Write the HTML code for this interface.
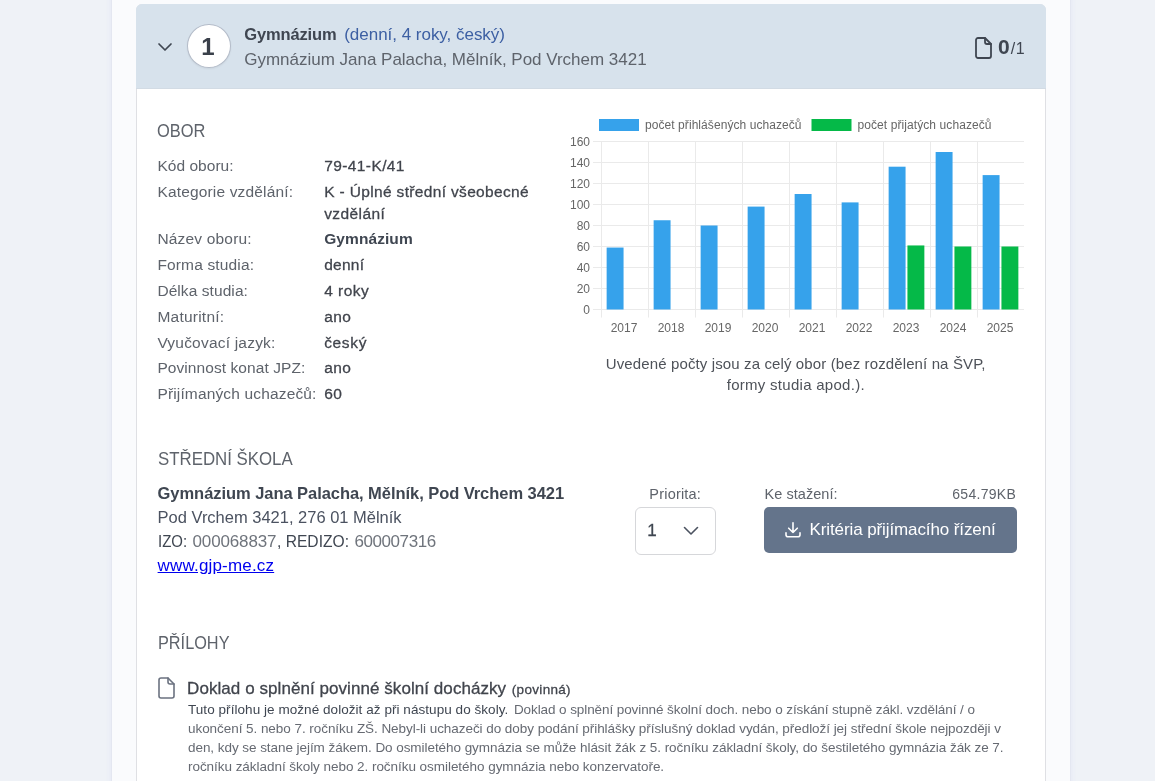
<!DOCTYPE html>
<html lang="cs"><head><meta charset="utf-8"><title>Přihláška</title>
<style>
*{box-sizing:border-box}
html,body{margin:0;padding:0}
body{width:1155px;height:781px;overflow:hidden;background:#eff2f7;font-family:"Liberation Sans",Arial,sans-serif;color:#3f4651;position:relative}
.outer{position:absolute;left:111px;top:-20px;width:960px;height:900px;background:#fafbfd;border:1px solid #e4e7f1;box-shadow:0 0 6px rgba(180,185,240,.16)}
.card{position:absolute;left:136px;top:4px;width:910px;height:900px;background:#fff;border:1px solid #dfe0e4;border-radius:6px 6px 0 0}
.hdr{position:absolute;left:-1px;top:-1px;width:910px;height:85px;background:#d7e2ec;border-bottom:1px solid #d2dbe4;border-radius:6px 6px 0 0}
.abs{position:absolute;white-space:nowrap}
.circle{position:absolute;left:187px;top:24px;width:43.500px;height:44px;border-radius:50%;background:#fff;border:1px solid #b4bcc9;box-shadow:0 1px 2px rgba(0,0,0,.06)}
.chart{position:absolute;left:560px;top:100px}
</style></head><body>
<div class="outer"></div>
<div class="card"><div class="hdr"></div></div>

<svg class="abs" style="left:157px;top:39px" width="16" height="16" viewBox="0 0 16 16" fill="none" stroke="#3f4651" stroke-width="1.7" stroke-linecap="round" stroke-linejoin="round"><path d="M2 5l6 6 6-6"/></svg>
<div class="circle"></div>
<div class="abs" style="left:186.5px;top:33px;width:43px;text-align:center;font-size:24px;font-weight:bold;color:#3a404a">1</div>

<svg class="abs" style="left:973px;top:35px" width="22" height="26" viewBox="0 0 22 26" fill="none" stroke="#3f4651" stroke-width="1.8" stroke-linejoin="round" stroke-linecap="round"><path d="M3 5a2 2 0 0 1 2-2h7l6 6v12a2 2 0 0 1-2 2H5a2 2 0 0 1-2-2z"/><path d="M12 3v4a2 2 0 0 0 2 2h4"/></svg>
<div class="abs" style="left:998px;top:35px;font-size:21px;color:#3f4651"><b style="letter-spacing:1px">0</b><span style="font-size:16px;letter-spacing:.5px">/1</span></div>

<svg class="chart" width="480" height="250" viewBox="0 0 480 250" font-family="Liberation Sans, Arial, sans-serif" font-size="12" fill="#666">
<rect x="33.0" y="41.0" width="431.0" height="1" fill="#eaeaea"/>
<rect x="33.0" y="62.0" width="431.0" height="1" fill="#eaeaea"/>
<rect x="33.0" y="83.0" width="431.0" height="1" fill="#eaeaea"/>
<rect x="33.0" y="104.0" width="431.0" height="1" fill="#eaeaea"/>
<rect x="33.0" y="125.0" width="431.0" height="1" fill="#eaeaea"/>
<rect x="33.0" y="146.0" width="431.0" height="1" fill="#eaeaea"/>
<rect x="33.0" y="167.0" width="431.0" height="1" fill="#eaeaea"/>
<rect x="33.0" y="188.0" width="431.0" height="1" fill="#eaeaea"/>
<rect x="33.0" y="209.0" width="431.0" height="1" fill="#eaeaea"/>
<rect x="41.0" y="41.5" width="1" height="176.0" fill="#eaeaea"/>
<rect x="88.0" y="41.5" width="1" height="176.0" fill="#eaeaea"/>
<rect x="135.0" y="41.5" width="1" height="176.0" fill="#eaeaea"/>
<rect x="182.0" y="41.5" width="1" height="176.0" fill="#eaeaea"/>
<rect x="229.0" y="41.5" width="1" height="176.0" fill="#eaeaea"/>
<rect x="276.0" y="41.5" width="1" height="176.0" fill="#eaeaea"/>
<rect x="323.0" y="41.5" width="1" height="176.0" fill="#eaeaea"/>
<rect x="370.0" y="41.5" width="1" height="176.0" fill="#eaeaea"/>
<rect x="417.0" y="41.5" width="1" height="176.0" fill="#eaeaea"/>
<rect x="46.64" y="147.55" width="16.92" height="61.95" fill="#36a2eb"/>
<rect x="93.64" y="120.25" width="16.92" height="89.25" fill="#36a2eb"/>
<rect x="140.64" y="125.5" width="16.92" height="84.0" fill="#36a2eb"/>
<rect x="187.64" y="106.6" width="16.92" height="102.9" fill="#36a2eb"/>
<rect x="234.64" y="94.0" width="16.92" height="115.5" fill="#36a2eb"/>
<rect x="281.64" y="102.4" width="16.92" height="107.1" fill="#36a2eb"/>
<rect x="328.64" y="66.7" width="16.92" height="142.8" fill="#36a2eb"/>
<rect x="347.44" y="145.45" width="16.92" height="64.05" fill="#05b948"/>
<rect x="375.64" y="52.0" width="16.92" height="157.5" fill="#36a2eb"/>
<rect x="394.44" y="146.5" width="16.92" height="63.0" fill="#05b948"/>
<rect x="422.64" y="75.1" width="16.92" height="134.4" fill="#36a2eb"/>
<rect x="441.44" y="146.5" width="16.92" height="63.0" fill="#05b948"/>
<text x="30" y="214.1" text-anchor="end">0</text>
<text x="30" y="193.1" text-anchor="end">20</text>
<text x="30" y="172.1" text-anchor="end">40</text>
<text x="30" y="151.1" text-anchor="end">60</text>
<text x="30" y="130.1" text-anchor="end">80</text>
<text x="30" y="109.1" text-anchor="end">100</text>
<text x="30" y="88.1" text-anchor="end">120</text>
<text x="30" y="67.1" text-anchor="end">140</text>
<text x="30" y="46.1" text-anchor="end">160</text>
<text x="64.0" y="232" text-anchor="middle">2017</text>
<text x="111.0" y="232" text-anchor="middle">2018</text>
<text x="158.0" y="232" text-anchor="middle">2019</text>
<text x="205.0" y="232" text-anchor="middle">2020</text>
<text x="252.0" y="232" text-anchor="middle">2021</text>
<text x="299.0" y="232" text-anchor="middle">2022</text>
<text x="346.0" y="232" text-anchor="middle">2023</text>
<text x="393.0" y="232" text-anchor="middle">2024</text>
<text x="440.0" y="232" text-anchor="middle">2025</text>
<rect x="39" y="19" width="40" height="12" fill="#36a2eb"/>
<text x="85" y="29.3" textLength="156.5" lengthAdjust="spacing">počet přihlášených uchazečů</text>
<rect x="251.5" y="19" width="40" height="12" fill="#05b948"/>
<text x="297.5" y="29.3" textLength="134" lengthAdjust="spacing">počet přijatých uchazečů</text>
</svg>

<div class="abs" style="left:635px;top:507px;width:81px;height:48px;border:1px solid #d6d7da;border-radius:6px;background:#fff"></div>
<svg class="abs" style="left:683px;top:523px" width="16" height="16" viewBox="0 0 16 16" fill="none" stroke="#4b5260" stroke-width="1.6" stroke-linecap="round" stroke-linejoin="round"><path d="M1.5 4.5l6.5 6.5 6.5-6.5"/></svg>

<div class="abs" style="left:764px;top:507px;width:253px;height:46px;background:#64748b;border-radius:5px"></div>
<svg class="abs" style="left:784px;top:521px" width="18" height="18" viewBox="0 0 18 18" fill="none" stroke="#fff" stroke-width="1.6" stroke-linecap="round" stroke-linejoin="round"><path d="M9 1.800v9.700M4.700 7.200L9 11.500l4.300-4.300M2 11.800v2a2 2 0 0 0 2 2h10a2 2 0 0 0 2-2v-2"/></svg>

<svg class="abs" style="left:157px;top:676px" width="20" height="24" viewBox="0 0 20 24" fill="none" stroke="#6b7280" stroke-width="1.6" stroke-linejoin="round" stroke-linecap="round"><path d="M2 4a2 2 0 0 1 2-2h7l6 6v12a2 2 0 0 1-2 2H4a2 2 0 0 1-2-2z"/><path d="M11 2v4a2 2 0 0 0 2 2h4"/></svg>

<div id="t1" class="abs" style="left:244.2px;top:25.2px;font-size:16.5px;font-weight:bold;color:#3f4651;letter-spacing:-0.129px">Gymnázium</div>
<div id="t2" class="abs" style="left:344.2px;top:25px;font-size:17px;color:#3c5fa3;letter-spacing:-0.021px">(denní, 4 roky, český)</div>
<div id="t3" class="abs" style="left:244.2px;top:49.5px;font-size:17px;color:#5e636b;letter-spacing:-0.008px">Gymnázium Jana Palacha, Mělník, Pod Vrchem 3421</div>
<div id="h1" class="abs" style="left:157.4px;top:121px;font-size:18px;color:#5e636b;transform-origin:0 0;transform:scaleX(0.9129)">OBOR</div>
<div id="l1" class="abs" style="left:157.4px;top:157px;font-size:15.5px;color:#5e636b;letter-spacing:0.04px">Kód oboru:</div>
<div id="v1" class="abs" style="left:324.2px;top:157px;font-size:15.5px;color:#40444c;-webkit-text-stroke:.28px #40444c;letter-spacing:0.4px">79-41-K/41</div>
<div id="l2" class="abs" style="left:157.4px;top:183px;font-size:15.5px;color:#5e636b;letter-spacing:0.161px">Kategorie vzdělání:</div>
<div id="v2" class="abs" style="left:324.2px;top:183px;font-size:15.5px;color:#40444c;-webkit-text-stroke:.28px #40444c;letter-spacing:0.343px">K - Úplné střední všeobecné</div>
<div id="v2b" class="abs" style="left:324.2px;top:205px;font-size:15.5px;color:#40444c;-webkit-text-stroke:.28px #40444c;letter-spacing:0.409px">vzdělání</div>
<div id="l3" class="abs" style="left:157.4px;top:230px;font-size:15.5px;color:#5e636b;letter-spacing:0.182px">Název oboru:</div>
<div id="v3" class="abs" style="left:324.2px;top:230px;font-size:15.5px;font-weight:bold;color:#3f4651;letter-spacing:0.08px">Gymnázium</div>
<div id="l4" class="abs" style="left:157.4px;top:256px;font-size:15.5px;color:#5e636b;letter-spacing:0.153px">Forma studia:</div>
<div id="v4" class="abs" style="left:324.2px;top:256px;font-size:15.5px;color:#40444c;-webkit-text-stroke:.28px #40444c;letter-spacing:0.251px">denní</div>
<div id="l5" class="abs" style="left:157.4px;top:282px;font-size:15.5px;color:#5e636b;letter-spacing:0.074px">Délka studia:</div>
<div id="v5" class="abs" style="left:324.2px;top:282px;font-size:15.5px;color:#40444c;-webkit-text-stroke:.28px #40444c;letter-spacing:0.476px">4 roky</div>
<div id="l6" class="abs" style="left:157.4px;top:308px;font-size:15.5px;color:#5e636b;letter-spacing:0.232px">Maturitní:</div>
<div id="v6" class="abs" style="left:324.2px;top:308px;font-size:15.5px;color:#40444c;-webkit-text-stroke:.28px #40444c;letter-spacing:0.363px">ano</div>
<div id="l7" class="abs" style="left:157.4px;top:334px;font-size:15.5px;color:#5e636b;letter-spacing:0.209px">Vyučovací jazyk:</div>
<div id="v7" class="abs" style="left:324.2px;top:334px;font-size:15.5px;color:#40444c;-webkit-text-stroke:.28px #40444c;letter-spacing:0.644px">český</div>
<div id="l8" class="abs" style="left:157.4px;top:359px;font-size:15.5px;color:#5e636b;letter-spacing:0.075px">Povinnost konat JPZ:</div>
<div id="v8" class="abs" style="left:324.2px;top:359px;font-size:15.5px;color:#40444c;-webkit-text-stroke:.28px #40444c;letter-spacing:0.363px">ano</div>
<div id="l9" class="abs" style="left:157.4px;top:385px;font-size:15.5px;color:#5e636b;letter-spacing:0.153px">Přijímaných uchazečů:</div>
<div id="v9" class="abs" style="left:324.2px;top:385px;font-size:15.5px;color:#40444c;-webkit-text-stroke:.28px #40444c;letter-spacing:0.35px">60</div>
<div id="c1" class="abs" style="left:605.8px;top:355px;font-size:15px;color:#4e5259;letter-spacing:0.121px">Uvedené počty jsou za celý obor (bez rozdělení na ŠVP,</div>
<div id="c2" class="abs" style="left:726.7px;top:376px;font-size:15px;color:#4e5259;letter-spacing:0.281px">formy studia apod.).</div>
<div id="h2" class="abs" style="left:157.6px;top:449px;font-size:18px;color:#5e636b;transform-origin:0 0;transform:scaleX(0.9351)">STŘEDNÍ ŠKOLA</div>
<div id="s1" class="abs" style="left:157.6px;top:483.8px;font-size:16.5px;font-weight:bold;color:#3f4651;letter-spacing:-0.055px">Gymnázium Jana Palacha, Mělník, Pod Vrchem 3421</div>
<div id="s2" class="abs" style="left:157.6px;top:507.8px;font-size:16.5px;color:#4b5260;letter-spacing:-0.01px">Pod Vrchem 3421, 276 01 Mělník</div>
<div id="s3a" class="abs" style="left:157.6px;top:532px;font-size:17px;color:#3f4651;transform-origin:0 0;transform:scaleX(0.8802)">IZO:</div>
<div id="s3b" class="abs" style="left:192.5px;top:532px;font-size:17px;color:#6f747c;letter-spacing:-0.137px">000068837</div>
<div id="s3c" class="abs" style="left:276.8px;top:532px;font-size:17px;color:#3f4651;transform-origin:0 0;transform:scaleX(0.9183)">, REDIZO:</div>
<div id="s3d" class="abs" style="left:354.6px;top:532px;font-size:17px;color:#6f747c;letter-spacing:-0.449px">600007316</div>
<div id="s4" class="abs" style="left:157.6px;top:556px;font-size:17px;color:#0000ee;text-decoration:underline;letter-spacing:0.174px">www.gjp-me.cz</div>
<div id="p1" class="abs" style="left:649.3px;top:486px;font-size:14.5px;color:#5e636b;letter-spacing:0.204px">Priorita:</div>
<div id="p2" class="abs" style="left:647.3px;top:521px;font-size:17px;color:#3f4651;-webkit-text-stroke:.3px #3f4651;letter-spacing:0px">1</div>
<div id="k1" class="abs" style="left:764.5px;top:486px;font-size:14.5px;color:#5e636b;letter-spacing:0.055px">Ke stažení:</div>
<div id="k2" class="abs" style="left:952.3px;top:486px;font-size:14px;color:#5e636b;letter-spacing:0.286px">654.79KB</div>
<div id="k3" class="abs" style="left:809.5px;top:520px;font-size:17px;color:#fff;letter-spacing:-0.102px">Kritéria přijímacího řízení</div>
<div id="h3" class="abs" style="left:157.6px;top:633px;font-size:18px;color:#5e636b;transform-origin:0 0;transform:scaleX(0.9047)">PŘÍLOHY</div>
<div id="a1" class="abs" style="left:187.1px;top:679px;font-size:17px;color:#40444c;-webkit-text-stroke:.28px #40444c;letter-spacing:0.062px">Doklad o splnění povinné školní docházky</div>
<div id="a2" class="abs" style="left:511.8px;top:682px;font-size:13.5px;color:#40444c;-webkit-text-stroke:.28px #40444c;letter-spacing:0.315px">(povinná)</div>
<div id="b1" class="abs" style="left:188px;top:702px;font-size:13.5px;color:#3f4651;letter-spacing:0.054px">Tuto přílohu je možné doložit až při nástupu do školy.</div>
<div id="b1b" class="abs" style="left:513.9px;top:702px;font-size:13.5px;color:#666a72;letter-spacing:-0.085px">Doklad o splnění povinné školní doch. nebo o získání stupně zákl. vzdělání / o</div>
<div id="b2" class="abs" style="left:188px;top:721px;font-size:13.5px;color:#666a72;letter-spacing:-0.053px">ukončení 5. nebo 7. ročníku ZŠ. Nebyl-li uchazeči do doby podání přihlášky příslušný doklad vydán, předloží jej střední škole nejpozději v</div>
<div id="b3" class="abs" style="left:188px;top:740px;font-size:13.5px;color:#666a72;letter-spacing:-0.055px">den, kdy se stane jejím žákem. Do osmiletého gymnázia se může hlásit žák z 5. ročníku základní školy, do šestiletého gymnázia žák ze 7.</div>
<div id="b4" class="abs" style="left:188px;top:759px;font-size:13.5px;color:#666a72;letter-spacing:-0.045px">ročníku základní školy nebo 2. ročníku osmiletého gymnázia nebo konzervatoře.</div>
</body></html>
